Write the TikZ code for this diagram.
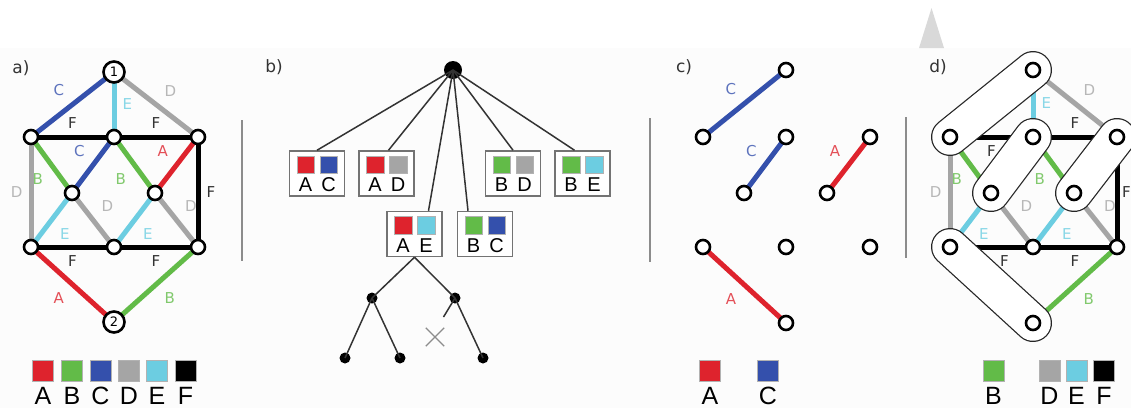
\documentclass[tikz,border=0pt]{standalone}
\usepackage{fontspec}
\setmainfont{DejaVu Sans}
\newfontfamily\keyfont{Liberation Sans}
\usetikzlibrary{calc,shapes.misc}

\definecolor{colA}{RGB}{222,35,45}
\definecolor{colB}{RGB}{98,187,72}
\definecolor{colC}{RGB}{52,80,172}
\definecolor{colD}{RGB}{165,165,165}
\definecolor{colE}{RGB}{108,205,225}
\definecolor{colF}{RGB}{0,0,0}

\pgfdeclarelayer{foreground}
\pgfsetlayers{main,foreground}

% the eight inner vertices of the graph, #1 = prefix, #2 = x of left column
\newcommand{\innervertices}[2]{%
  \node[vtx] (#1l) at (#2,137) {};
  \node[vtx] (#1m) at (#2+83,137) {};
  \node[vtx] (#1r) at (#2+167,137) {};
  \node[vtx] (#1p) at (#2+41,193) {};
  \node[vtx] (#1q) at (#2+124,193) {};
  \node[vtx] (#1u) at (#2,247) {};
  \node[vtx] (#1v) at (#2+83,247) {};
  \node[vtx] (#1w) at (#2+167,247) {};}

% box with two colour squares and their letters
\newcommand{\pairbox}[7]{%
  \node[pbox] (#1) at (#2,#3) {};
  \node[sq, fill=#4] (#1-1) at ($(#1)+(-11.5,-9)$) {};
  \node[sq, fill=#6] (#1-2) at ($(#1)+(11.5,-9)$) {};
  \node[boxtxt] (#1-1t) at ($(#1)+(-11.5,11.5)$) {#5};
  \node[boxtxt] (#1-2t) at ($(#1)+(11.5,11.5)$) {#7};}

% one colour of a legend
\newcommand{\keyentry}[4]{%
  \node[keysq, fill=#3] (#1) at (#2,371) {};
  \node[keytxt] (#1-t) at (#2,396) {#4};}

\begin{document}
\begin{tikzpicture}[x=1pt, y=-1pt,
  vtx/.style={circle, draw, fill=white, line width=2.6pt, minimum size=14pt, inner sep=0pt},
  bigvtx/.style={vtx, minimum size=21pt, font=\fontsize{13}{13}\selectfont},
  link/.style={line width=5pt},
  lab/.style={font=\fontsize{15}{15}\selectfont, inner sep=6pt},
  tag/.style={font=\fontsize{17}{17}\selectfont, text=black!80},
  sep/.style={black!45, line width=2pt},
  capsule/.style={line width=38pt, line cap=round},
  tree/.style={black!80, line width=1.5pt},
  dot/.style={circle, fill=black, minimum size=11pt, inner sep=0pt},
  pbox/.style={draw=black!55, line width=1.5pt, fill=white, minimum width=55pt, minimum height=45pt, inner sep=0pt},
  sq/.style={draw=black!30, line width=0.5pt, minimum size=17.5pt, inner sep=0pt},
  boxtxt/.style={font=\keyfont\fontsize{20}{20}\selectfont, inner sep=0pt},
  keysq/.style={draw=black!30, line width=0.5pt, minimum size=21pt, inner sep=0pt},
  keytxt/.style={font=\keyfont\fontsize{25}{25}\selectfont, inner sep=0pt}]

  \useasboundingbox (0,0) rectangle (1131,408);
  \fill[black!1] (0,48) rectangle (1131,408);
  \fill[black!15] (919,48) -- (931.5,8) -- (944,48) -- cycle;

  % separators between the panels
  \draw[sep] (242,120) -- (242,261);
  \draw[sep] (650,118) -- (650,262);
  \draw[sep] (906,117) -- (906,258);

  % a) the colouring graph
  \node[tag] (taga) at (21,68) {a)};
  \begin{pgfonlayer}{foreground}
    \innervertices{a}{31}
    \node[bigvtx] (atop) at (114,72) {1};
    \node[bigvtx] (abot) at (114,322) {2};
  \end{pgfonlayer}
  \foreach \na/\nb/\cl/\an in {
      top/l/C/south east, top/m/E/west, top/r/D/south west,
      l/m/F/south, m/r/F/south,
      l/p/B/north east, m/p/C/south east, m/q/B/north east, r/q/A/south east,
      r/w/F/west, l/u/D/east,
      p/u/E/north west, p/v/D/south west, q/v/E/north west, q/w/D/south west,
      u/v/F/north, v/w/F/north,
      u/bot/A/north east, w/bot/B/north west}
    \draw[link, draw=col\cl] (a\na.center) -- (a\nb.center)
      node[lab, text=col\cl!80, midway, anchor=\an] {\cl};

  \keyentry{ka}{43}{colA}{A}
  \keyentry{kb}{72}{colB}{B}
  \keyentry{kc}{100.5}{colC}{C}
  \keyentry{kd}{129}{colD}{D}
  \keyentry{ke}{157}{colE}{E}
  \keyentry{kf}{185.5}{colF}{F}

  % b) search tree over pairs of colours
  \node[tag] (tagb) at (274,67) {b)};
  \node[dot, minimum size=18pt] (root) at (453,70) {};
  \pairbox{ac}{317}{173.5}{colA}{A}{colC}{C}
  \pairbox{ad}{386.5}{173.5}{colA}{A}{colD}{D}
  \pairbox{bd}{513}{173.5}{colB}{B}{colD}{D}
  \pairbox{be}{582.5}{173.5}{colB}{B}{colE}{E}
  \pairbox{ae}{414.5}{234}{colA}{A}{colE}{E}
  \pairbox{bc}{485}{234}{colB}{B}{colC}{C}

  \draw[tree] (root.center) -- (ac.north);
  \draw[tree] (root.center) -- ([xshift=2pt]ad.north);
  \draw[tree] (root.center) -- ([xshift=14pt]ae.north);
  \draw[tree] (root.center) -- ([xshift=-17pt]bc.north);
  \draw[tree] (root.center) -- (bd.north);
  \draw[tree] (root.center) -- ([xshift=-8pt]be.north);

  \node[dot] (n1) at (372,298) {};
  \node[dot] (n2) at (455,298) {};
  \node[dot] (n11) at (345,358) {};
  \node[dot] (n12) at (400,358) {};
  \node[dot] (n22) at (483,358) {};
  \coordinate (cut) at (443.5,317);
  \node[cross out, draw=black!45, line width=1.3pt, minimum size=17pt, inner sep=0pt] (nocut) at (435,337) {};

  \draw[tree] (ae.south) -- (n1.center);
  \draw[tree] (ae.south) -- (n2.center);
  \draw[tree] (n1.center) -- (n11.center);
  \draw[tree] (n1.center) -- (n12.center);
  \draw[tree] (n2.center) -- (n22.center);
  \draw[tree] (n2.center) -- (cut);

  % c) the two colours A and C
  \node[tag] (tagc) at (684,67) {c)};
  \begin{pgfonlayer}{foreground}
    \innervertices{c}{703}
    \node[vtx] (ctop) at (786,70) {};
    \node[vtx] (cbot) at (786,323) {};
  \end{pgfonlayer}
  \foreach \na/\nb/\cl/\an in {
      top/l/C/south east, m/p/C/south east,
      r/q/A/south east, u/bot/A/north east}
    \draw[link, draw=col\cl] (c\na.center) -- (c\nb.center)
      node[lab, text=col\cl!80, midway, anchor=\an] {\cl};

  \keyentry{kca}{710}{colA}{A}
  \keyentry{kcc}{768}{colC}{C}

  % d) merged vertices, remaining colours
  \node[tag] (tagd) at (938,67) {d)};
  \begin{pgfonlayer}{foreground}
    \innervertices{d}{950}
    \node[vtx] (dtop) at (1033,70) {};
    \node[vtx] (dbot) at (1033,323) {};
  \end{pgfonlayer}
  \foreach \na/\nb/\cl/\an in {
      top/m/E/west, top/r/D/south west,
      l/m/F/north, m/r/F/south,
      l/p/B/north east, m/q/B/north east,
      l/u/D/east,
      p/u/E/north west, p/v/D/south west, q/v/E/north west, q/w/D/south west,
      u/v/F/north west, v/w/F/north, w/bot/B/north west}
    \draw[link, draw=col\cl] (d\na.center) -- (d\nb.center)
      node[lab, text=col\cl!80, midway, anchor=\an] {\cl};
  % right edge: label kept close to the line
  \draw[link, draw=colF] (dr.center) -- (dw.center)
    node[lab, text=colF!80, midway, anchor=west, inner sep=2.5pt] {F};

  \foreach \na/\nb in {top/l, m/p, r/q, u/bot} {
    \draw[capsule, black!85] (d\na.center) -- (d\nb.center);
    \draw[capsule, white, line width=35.5pt] (d\na.center) -- (d\nb.center);
  }

  \keyentry{kdb}{993.5}{colB}{B}
  \keyentry{kdd}{1049.5}{colD}{D}
  \keyentry{kde}{1076.5}{colE}{E}
  \keyentry{kdf}{1104}{colF}{F}
\end{tikzpicture}
\end{document}
